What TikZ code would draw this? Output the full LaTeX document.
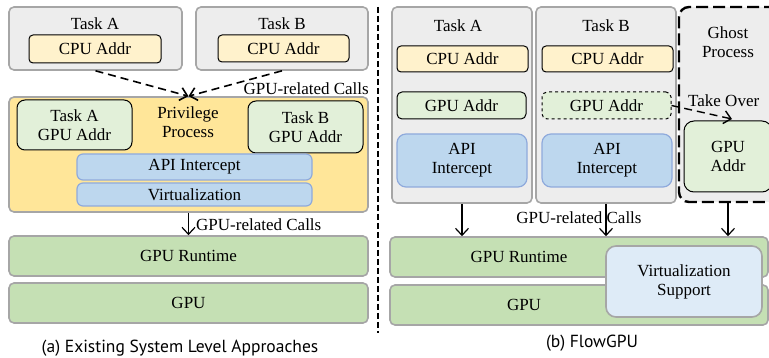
\documentclass[tikz,border=0pt]{standalone}
\usepackage{fontspec}
\setmainfont{Liberation Serif}
\newfontfamily\capfont{PT Sans}
\usetikzlibrary{arrows.meta}

\definecolor{taskgray}{HTML}{EDEDED}
\definecolor{linegray}{HTML}{A6A6A6}
\definecolor{cpuyellow}{HTML}{FFF2CC}
\definecolor{addrgreen}{HTML}{E2F0D9}
\definecolor{privorange}{HTML}{FFE699}
\definecolor{apiblue}{HTML}{BDD7EE}
\definecolor{apiline}{HTML}{8FAADC}
\definecolor{gpugreen}{HTML}{C5E0B4}
\definecolor{virtblue}{HTML}{DEEBF7}

\tikzset{
  box/.style={inner sep=0pt, align=center, font=\fontsize{17}{19}\selectfont},
  graybox/.style={box, draw=linegray, fill=taskgray, line width=1.6pt, rounded corners=5pt},
  cpubox/.style={box, draw=black, fill=cpuyellow, line width=1pt, rounded corners=4pt},
  addrbox/.style={box, draw=black, fill=addrgreen, line width=1pt, rounded corners=5pt},
  apibox/.style={box, draw=apiline, fill=apiblue, line width=1.2pt, rounded corners=6pt},
  gpubox/.style={box, draw=linegray, fill=gpugreen, line width=1.6pt, rounded corners=5pt},
  txt/.style={box, inner sep=0pt},
  callarrow/.style={-{Straight Barb[length=7pt,width=13pt]}, line width=1.2pt},
  dasharrow/.style={callarrow, line width=1.6pt, dash pattern=on 8pt off 5pt}
}

\begin{document}
\begin{tikzpicture}[x=1pt,y=-1pt]
\useasboundingbox (0,0) rectangle (769,358);

% (a) existing approaches
\node[graybox, minimum width=173pt, minimum height=63pt] (taskA) at (95.5,38.5) {};
\node[txt] (taskAname) at (95,24) {Task A};
\node[cpubox, minimum width=132pt, minimum height=28pt] (cpuA) at (95,49) {CPU Addr};
\node[graybox, minimum width=172pt, minimum height=63pt] (taskB) at (282,38.5) {};
\node[txt] (taskBname) at (282,24) {Task B};
\node[cpubox, minimum width=131pt, minimum height=27pt] (cpuB) at (283.5,48.5) {CPU Addr};

\node[graybox, fill=privorange, minimum width=359pt, minimum height=115pt] (priv) at (188.5,154.5) {};
\node[txt] (privname) at (188,122) {Privilege\\Process};
\node[addrbox, rounded corners=8pt, minimum width=115pt, minimum height=50pt] (gpuA) at (74.5,125) {Task A\\GPU Addr};
\node[addrbox, rounded corners=8pt, minimum width=115pt, minimum height=52pt] (gpuB) at (305.5,127) {Task B\\GPU Addr};
\node[apibox, minimum width=235pt, minimum height=26pt] (api) at (194.5,167) {API Intercept};
\node[apibox, minimum width=235pt, minimum height=23pt] (virt) at (194.5,194.5) {Virtualization};

\node[gpubox, minimum width=359pt, minimum height=40pt] (runtime) at (188.5,256) {GPU Runtime};
\node[gpubox, minimum width=359pt, minimum height=40pt] (gpu) at (188.5,303) {GPU};

\draw[dasharrow] (taskA.south) -- (priv.north);
\draw[dasharrow] (taskB.south) -- (priv.north);
\node[txt, anchor=east] (callsa) at (369,89) {GPU-related Calls};
\draw[callarrow] (priv.south) -- (runtime.north);
\node[txt, anchor=west] (callsb) at (196,225) {GPU-related Calls};

\node[txt, font=\capfont\fontsize{17.5}{20}\selectfont] (capa) at (180,348) {(a) Existing System Level Approaches};

% divider
\coordinate (divtop) at (378,7);
\coordinate (divbot) at (378,333);
\draw[line width=2.2pt, dash pattern=on 6pt off 3pt] (divtop) -- (divbot);

% (b) FlowGPU
\node[graybox, minimum width=140pt, minimum height=196pt] (colA) at (462,105) {};
\node[txt] (colAname) at (458,26) {Task A};
\node[cpubox, minimum width=131pt, minimum height=26pt] (cpuA2) at (462.5,59) {CPU Addr};
\node[addrbox, minimum width=129pt, minimum height=27pt] (gpuA2) at (461.5,105.5) {GPU Addr};
\node[apibox, rounded corners=9pt, minimum width=130pt, minimum height=53pt] (apiA) at (462,160.5) {API\\Intercept};

\node[graybox, minimum width=140pt, minimum height=196pt] (colB) at (606,105) {};
\node[txt] (colBname) at (606,26) {Task B};
\node[cpubox, minimum width=131pt, minimum height=26pt] (cpuB2) at (607.5,59) {CPU Addr};
\node[addrbox, dashed, minimum width=129pt, minimum height=27pt] (gpuB2) at (606.5,105.5) {GPU Addr};
\node[apibox, rounded corners=9pt, minimum width=130pt, minimum height=53pt] (apiB) at (607,160.5) {API\\Intercept};

\node[graybox, draw=black, line width=2.4pt, dash pattern=on 12pt off 5pt, rounded corners=10pt, minimum width=141pt, minimum height=195pt] (ghost) at (749.5,104.5) {};
\node[txt] (ghostname) at (728,42) {Ghost\\Process};
\node[addrbox, rounded corners=10pt, minimum width=88pt, minimum height=71pt] (gpuG) at (728,156.5) {GPU\\Addr};
\node[txt, anchor=west] (takeover) at (688,101) {Take Over};
\coordinate (takeend) at (732,119);
\draw[dasharrow, line width=1.4pt] (gpuB2.east) -- (takeend);

\node[gpubox, minimum width=378pt, minimum height=40pt] (runtime2) at (579,257) {};
\node[txt] (runtime2name) at (519,257) {GPU Runtime};
\node[gpubox, minimum width=378pt, minimum height=40pt] (gpu2) at (579,305) {};
\node[txt] (gpu2name) at (524,305) {GPU};
\node[graybox, fill=virtblue, rounded corners=10pt, minimum width=156pt, minimum height=71pt] (vsupport) at (684,281.5) {Virtualization\\Support};

\draw[callarrow] (colA.south) -- (colA.south |- runtime2.north);
\draw[callarrow] (colB.south) -- (colB.south |- runtime2.north);
\draw[callarrow] (gpuG.south |- ghost.south) -- (gpuG.south |- runtime2.north);
\node[txt] (callsc) at (579,218) {GPU-related Calls};

\node[txt, font=\capfont\fontsize{17.5}{20}\selectfont] (capb) at (592,343) {(b) FlowGPU};
\end{tikzpicture}
\end{document}
